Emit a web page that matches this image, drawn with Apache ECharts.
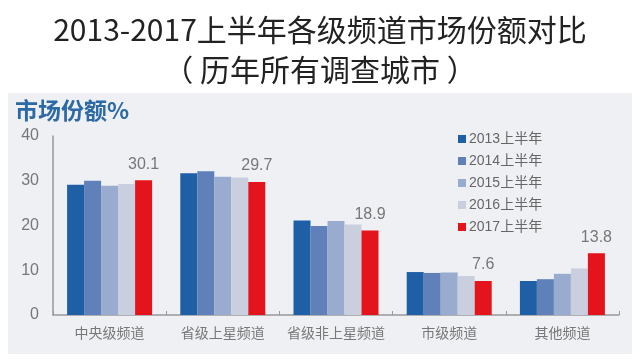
<!DOCTYPE html>
<html><head><meta charset="utf-8">
<script src="https://cdn.jsdelivr.net/npm/echarts@6/dist/echarts.min.js"></script>
<style>html,body{margin:0;padding:0;background:#fff}#c{width:640px;height:364px}</style>
</head><body><div id="c"></div>
<script>
const categories = ['中央级频道','省级上星频道','省级非上星频道','市级频道','其他频道'];
const seriesNames = ['2013上半年','2014上半年','2015上半年','2016上半年','2017上半年'];
const v2013 = [29.1, 31.7, 21.1, 9.6, 7.6];
const v2014 = [30.0, 32.1, 19.9, 9.4, 8.0];
const v2015 = [28.9, 30.9, 21.0, 9.5, 9.2];
const v2016 = [29.3, 30.7, 20.2, 8.7, 10.4];
const v2017 = [30.1, 29.7, 18.9, 7.6, 13.8];
const yTicks = [0, 10, 20, 30, 40];
const colors = ['#1f5fa6','#5f80b8','#9aabd0','#c9cfdf','#e3141c'];
const allValues = [v2013, v2014, v2015, v2016, v2017];
const font = '"Noto Sans CJK SC","Noto Sans",sans-serif';
const numFont = '"Liberation Sans","Noto Sans CJK SC",sans-serif';

const chart = echarts.init(document.getElementById('c'));
chart.setOption({
  animation: false,
  textStyle: {fontFamily: font},
  graphic: [
    {type:'rect', shape:{x:8,y:93,width:624,height:261}, style:{fill:'#eef0f4'}, z:-10},
    {type:'text', left:15, top:99, style:{text:'市场份额%', fill:'#2d6aa5', font:'bold 23px ' + font}}
  ],
  title: {
    text: '2013-2017上半年各级频道市场份额对比\n（ 历年所有调查城市 ）',
    left: 'center', top: 5,
    textStyle: {fontSize: 30, fontWeight: 'normal', color: '#222', lineHeight: 40, fontFamily: font}
  },
  legend: {
    orient: 'vertical', left: 453, top: 127,
    itemWidth: 8, itemHeight: 8, itemGap: 8, icon: 'rect',
    textStyle: {color: '#666', fontSize: 14, padding:[0,0,0,-2], fontFamily: numFont},
    data: seriesNames
  },
  grid: {left: 53, right: 21, top: 136, bottom: 49},
  xAxis: {
    type: 'category', data: categories,
    axisLine: {lineStyle: {color: '#999', width: 1.5}},
    axisTick: {show: true, inside: true, length: 4, lineStyle:{color:'#999'}},
    axisLabel: {color: '#777', fontSize: 14, margin: 11, interval: 0}
  },
  yAxis: {
    type: 'value', min: 0, max: 40, interval: 10,
    axisLine: {show: true, lineStyle: {color: '#999', width: 1.5}},
    axisTick: {show: false},
    splitLine: {show: false},
    axisLabel: {color: '#777', fontSize: 16, margin: 14, fontFamily: numFont}
  },
  series: seriesNames.map((n, i) => ({
    name: n, type: 'bar', data: allValues[i],
    barWidth: 17, barGap: '0%',
    itemStyle: {color: colors[i]},
    label: i === 4 ? {show: true, position: 'top', color: '#777', fontSize: 16, distance: 8, fontFamily: numFont} : {show: false}
  }))
});
</script></body></html>
